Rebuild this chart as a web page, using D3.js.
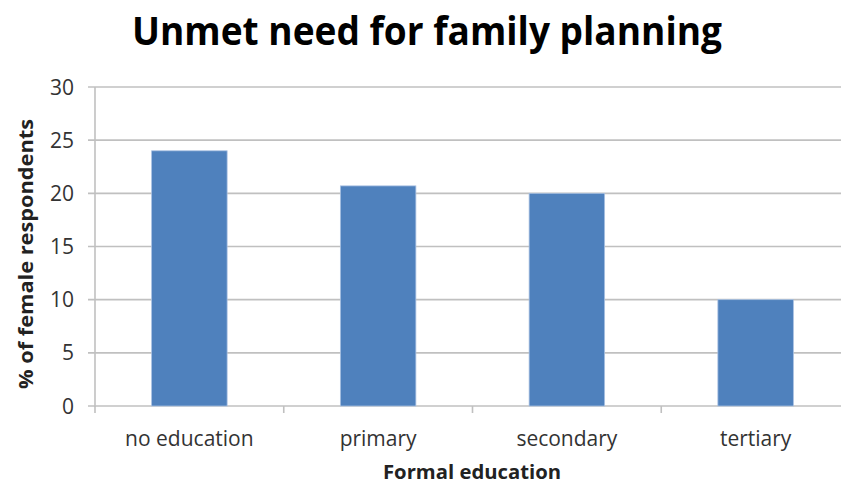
<!DOCTYPE html>
<html>
<head>
<meta charset="utf-8">
<script src="https://cdn.jsdelivr.net/npm/d3@7/dist/d3.min.js"></script>
<style>
  html, body { margin: 0; padding: 0; background: #fff; }
  svg { display: block; }
</style>
</head>
<body>
<svg id="chart" width="841" height="486"></svg>
<script>
// Unmet need for family planning, by level of formal education
const categories = ["no education", "primary", "secondary", "tertiary"];
const values = [24.0, 20.7, 20.0, 10.0];
const yTicks = [0, 5, 10, 15, 20, 25, 30];

const W = 841, H = 486;
const svg = d3.select("#chart");
const fontFace = "Open Sans, 'Liberation Sans', sans-serif";

// Plot area; the last category band runs slightly past the right edge
const plot = { left: 95, right: 850, top: 87, bottom: 406 };

const x = d3.scaleBand()
  .domain(categories)
  .range([plot.left, plot.right])
  .paddingInner(0.6)
  .paddingOuter(0.3);

const y = d3.scaleLinear()
  .domain([0, 30])
  .range([plot.bottom, plot.top]);

// Horizontal gridlines (extend left past the axis as tick marks)
svg.append("g")
  .selectAll("line")
  .data(yTicks)
  .join("line")
  .attr("x1", plot.left - 7)
  .attr("x2", W)
  .attr("y1", d => y(d))
  .attr("y2", d => y(d))
  .attr("stroke", "#c0c0c0")
  .attr("stroke-width", 1.6);

// Y axis tick labels
svg.append("g")
  .selectAll("text")
  .data(yTicks)
  .join("text")
  .attr("x", 74)
  .attr("y", d => y(d))
  .attr("dy", "0.36em")
  .attr("text-anchor", "end")
  .attr("font-family", fontFace)
  .attr("font-size", 21)
  .attr("fill", "#333")
  .text(d => d);

// Bars
svg.append("g")
  .selectAll("rect")
  .data(values)
  .join("rect")
  .attr("x", (d, i) => x(categories[i]))
  .attr("y", d => y(d))
  .attr("width", x.bandwidth())
  .attr("height", d => y(0) - y(d))
  .attr("fill", "#4f81bd")
  .attr("stroke", "#a9c1e2")
  .attr("stroke-width", 0.8);

// Vertical axis line
svg.append("line")
  .attr("x1", plot.left).attr("x2", plot.left)
  .attr("y1", plot.top).attr("y2", plot.bottom + 1)
  .attr("stroke", "#c0c0c0")
  .attr("stroke-width", 1.6);

// Category band boundary ticks on the x axis
const step = x.step();
const boundaries = categories.map((c, i) => plot.left + i * step);
svg.append("g")
  .selectAll("line")
  .data(boundaries)
  .join("line")
  .attr("x1", d => d).attr("x2", d => d)
  .attr("y1", plot.bottom).attr("y2", plot.bottom + 7)
  .attr("stroke", "#c0c0c0")
  .attr("stroke-width", 1.6);

// Category labels
svg.append("g")
  .selectAll("text")
  .data(categories)
  .join("text")
  .attr("x", d => x(d) + x.bandwidth() / 2)
  .attr("y", 446)
  .attr("text-anchor", "middle")
  .attr("font-family", fontFace)
  .attr("font-size", 21)
  .attr("fill", "#333")
  .text(d => d);

// Title
svg.append("text")
  .attr("x", 427)
  .attr("y", 45)
  .attr("text-anchor", "middle")
  .attr("font-family", fontFace)
  .attr("font-weight", "bold")
  .attr("font-size", 40)
  .attr("textLength", 590)
  .attr("lengthAdjust", "spacingAndGlyphs")
  .attr("fill", "#000")
  .text("Unmet need for family planning");

// X axis title
svg.append("text")
  .attr("x", 472)
  .attr("y", 479)
  .attr("text-anchor", "middle")
  .attr("font-family", fontFace)
  .attr("font-weight", "bold")
  .attr("font-size", 19)
  .attr("textLength", 178)
  .attr("lengthAdjust", "spacingAndGlyphs")
  .attr("fill", "#222")
  .text("Formal education");

// Y axis title
svg.append("text")
  .attr("transform", "translate(33,254) rotate(-90)")
  .attr("text-anchor", "middle")
  .attr("font-family", fontFace)
  .attr("font-weight", "bold")
  .attr("font-size", 19)
  .attr("textLength", 270)
  .attr("lengthAdjust", "spacingAndGlyphs")
  .attr("fill", "#222")
  .text("% of female respondents");
</script>
</body>
</html>
